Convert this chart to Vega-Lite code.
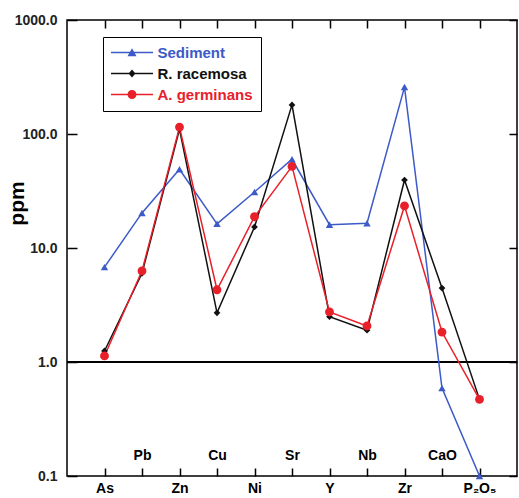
{
  "$schema": "https://vega.github.io/schema/vega-lite/v6.json",
  "width": 450,
  "height": 456,
  "autosize": "none",
  "padding": {"left": 67, "top": 20, "right": 2, "bottom": 22},
  "background": "white",
  "config": {
    "font": "Liberation Sans",
    "view": {"stroke": "black", "strokeWidth": 1.5},
    "axis": {"grid": false, "domain": false, "ticks": false}
  },
  "data": {
    "values": [
      {"el": "As", "series": "Sediment", "v": 6.8},
      {"el": "Pb", "series": "Sediment", "v": 20.3},
      {"el": "Zn", "series": "Sediment", "v": 49},
      {"el": "Cu", "series": "Sediment", "v": 16.3},
      {"el": "Ni", "series": "Sediment", "v": 31},
      {"el": "Sr", "series": "Sediment", "v": 60},
      {"el": "Y", "series": "Sediment", "v": 16},
      {"el": "Nb", "series": "Sediment", "v": 16.5},
      {"el": "Zr", "series": "Sediment", "v": 258},
      {"el": "CaO", "series": "Sediment", "v": 0.59},
      {"el": "P₂O₅", "series": "Sediment", "v": 0.1},
      {"el": "As", "series": "R. racemosa", "v": 1.25},
      {"el": "Pb", "series": "R. racemosa", "v": 6.0},
      {"el": "Zn", "series": "R. racemosa", "v": 110},
      {"el": "Cu", "series": "R. racemosa", "v": 2.7},
      {"el": "Ni", "series": "R. racemosa", "v": 15.3},
      {"el": "Sr", "series": "R. racemosa", "v": 180},
      {"el": "Y", "series": "R. racemosa", "v": 2.5},
      {"el": "Nb", "series": "R. racemosa", "v": 1.9},
      {"el": "Zr", "series": "R. racemosa", "v": 39.5},
      {"el": "CaO", "series": "R. racemosa", "v": 4.45},
      {"el": "P₂O₅", "series": "R. racemosa", "v": 0.47},
      {"el": "As", "series": "A. germinans", "v": 1.13},
      {"el": "Pb", "series": "A. germinans", "v": 6.3},
      {"el": "Zn", "series": "A. germinans", "v": 115},
      {"el": "Cu", "series": "A. germinans", "v": 4.3},
      {"el": "Ni", "series": "A. germinans", "v": 18.8},
      {"el": "Sr", "series": "A. germinans", "v": 52},
      {"el": "Y", "series": "A. germinans", "v": 2.75},
      {"el": "Nb", "series": "A. germinans", "v": 2.07},
      {"el": "Zr", "series": "A. germinans", "v": 23.4},
      {"el": "CaO", "series": "A. germinans", "v": 1.83},
      {"el": "P₂O₅", "series": "A. germinans", "v": 0.47}
    ]
  },
  "layer": [
    {
      "mark": {"type": "rule", "color": "black", "strokeWidth": 1.5},
      "encoding": {
        "y": {"datum": 1, "type": "quantitative", "scale": {"type": "log", "domain": [0.1, 1000], "nice": false}, "axis": null}
      }
    },
    {
      "mark": {"type": "line", "strokeWidth": 1.5},
      "encoding": {
        "x": {
          "field": "el", "type": "nominal",
          "sort": ["As", "Pb", "Zn", "Cu", "Ni", "Sr", "Y", "Nb", "Zr", "CaO", "P₂O₅"],
          "scale": {"type": "point", "padding": 1},
          "axis": {
            "orient": "bottom", "title": null, "labelAngle": 0,
            "labelFontSize": 14, "labelFontWeight": "bold", "labelColor": "black",
            "labelPadding": 5,
            "grid": true, "gridColor": "black", "gridWidth": 1.5, "gridOpacity": 1, "gridDash": [8, 440],
            "labelExpr": "indexof(['Pb','Cu','Sr','Nb','CaO'], datum.value) >= 0 ? '' : datum.value"
          }
        },
        "y": {
          "field": "v", "type": "quantitative",
          "scale": {"type": "log", "domain": [0.1, 1000], "nice": false},
          "axis": {
            "orient": "left", "values": [0.1, 1, 10, 100, 1000], "format": ".1f",
            "grid": true, "gridColor": "black", "gridWidth": 1.5, "gridOpacity": 1, "gridDash": [10, 432],
            "title": "ppm", "titleFontSize": 21, "titleFontWeight": "bold", "titleColor": "black",
            "titleX": -50, "titleY": 183, "titleAlign": "center", "titleBaseline": "middle", "titleAngle": -90,
            "labelFontSize": 14, "labelFontWeight": "bold", "labelColor": "#222", "labelFlush": false,
            "labelPadding": 10
          }
        },
        "color": {
          "field": "series", "type": "nominal",
          "scale": {"domain": ["Sediment", "R. racemosa", "A. germinans"], "range": ["#3c5ac8", "#111111", "#e8202a"]},
          "legend": {
            "orient": "none", "legendX": 36, "legendY": 17, "title": null,
            "padding": 8, "rowPadding": 5,
            "fillColor": "white", "strokeColor": "black",
            "labelFontSize": 15, "labelFontWeight": "bold", "labelFont": "Liberation Sans",
            "labelColor": {"expr": "scale('color', datum.value)"},
            "symbolType": {"expr": "datum.value === 'Sediment' ? 'M-4.2,-0.15H4.2V0.15H-4.2ZM-0.9,0.75L0,-0.85L0.9,0.75Z' : datum.value === 'R. racemosa' ? 'M-4.2,-0.15H4.2V0.15H-4.2ZM0,-0.8L0.7,0L0,0.8L-0.7,0Z' : 'M-4.2,-0.15H4.2V0.15H-4.2ZM-0.9,0A0.9,0.9,0,1,1,0.9,0A0.9,0.9,0,1,1,-0.9,0Z'"},
            "symbolFillColor": {"expr": "scale('color', datum.value)"},
            "symbolSize": 100, "symbolStrokeWidth": 0, "symbolOffset": 13.5, "labelOffset": 18
          }
        }
      }
    },
    {
      "transform": [{"filter": "datum.series === 'Sediment'"}],
      "mark": {"type": "point", "filled": true, "opacity": 1, "shape": "triangle-up", "size": 55},
      "encoding": {
        "x": {
          "field": "el", "type": "nominal",
          "sort": ["As", "Pb", "Zn", "Cu", "Ni", "Sr", "Y", "Nb", "Zr", "CaO", "P₂O₅"],
          "scale": {"type": "point", "padding": 1},
          "axis": {
            "orient": "top", "offset": -456, "title": null, "labelAngle": 0, "labelPadding": 14,
            "labelFontSize": 14, "labelFontWeight": "bold", "labelColor": "black",
            "labelExpr": "indexof(['Pb','Cu','Sr','Nb','CaO'], datum.value) >= 0 ? datum.value : ''"
          }
        },
        "y": {"field": "v", "type": "quantitative", "scale": {"type": "log", "domain": [0.1, 1000], "nice": false}, "axis": null},
        "color": {"field": "series", "type": "nominal", "scale": {"domain": ["Sediment", "R. racemosa", "A. germinans"], "range": ["#3c5ac8", "#111111", "#e8202a"]}}
      }
    },
    {
      "transform": [{"filter": "datum.series === 'R. racemosa'"}],
      "mark": {"type": "point", "filled": true, "opacity": 1, "shape": "diamond", "size": 45},
      "encoding": {
        "x": {
          "field": "el", "type": "nominal",
          "sort": ["As", "Pb", "Zn", "Cu", "Ni", "Sr", "Y", "Nb", "Zr", "CaO", "P₂O₅"],
          "scale": {"type": "point", "padding": 1},
          "axis": null
        },
        "y": {"field": "v", "type": "quantitative", "scale": {"type": "log", "domain": [0.1, 1000], "nice": false}, "axis": null},
        "color": {"field": "series", "type": "nominal", "scale": {"domain": ["Sediment", "R. racemosa", "A. germinans"], "range": ["#3c5ac8", "#111111", "#e8202a"]}}
      }
    },
    {
      "transform": [{"filter": "datum.series === 'A. germinans'"}],
      "mark": {"type": "point", "filled": true, "opacity": 1, "shape": "circle", "size": 78},
      "encoding": {
        "x": {
          "field": "el", "type": "nominal",
          "sort": ["As", "Pb", "Zn", "Cu", "Ni", "Sr", "Y", "Nb", "Zr", "CaO", "P₂O₅"],
          "scale": {"type": "point", "padding": 1},
          "axis": null
        },
        "y": {"field": "v", "type": "quantitative", "scale": {"type": "log", "domain": [0.1, 1000], "nice": false}, "axis": null},
        "color": {"field": "series", "type": "nominal", "scale": {"domain": ["Sediment", "R. racemosa", "A. germinans"], "range": ["#3c5ac8", "#111111", "#e8202a"]}}
      }
    }
  ],
  "resolve": {"axis": {"x": "independent", "y": "independent"}}
}
